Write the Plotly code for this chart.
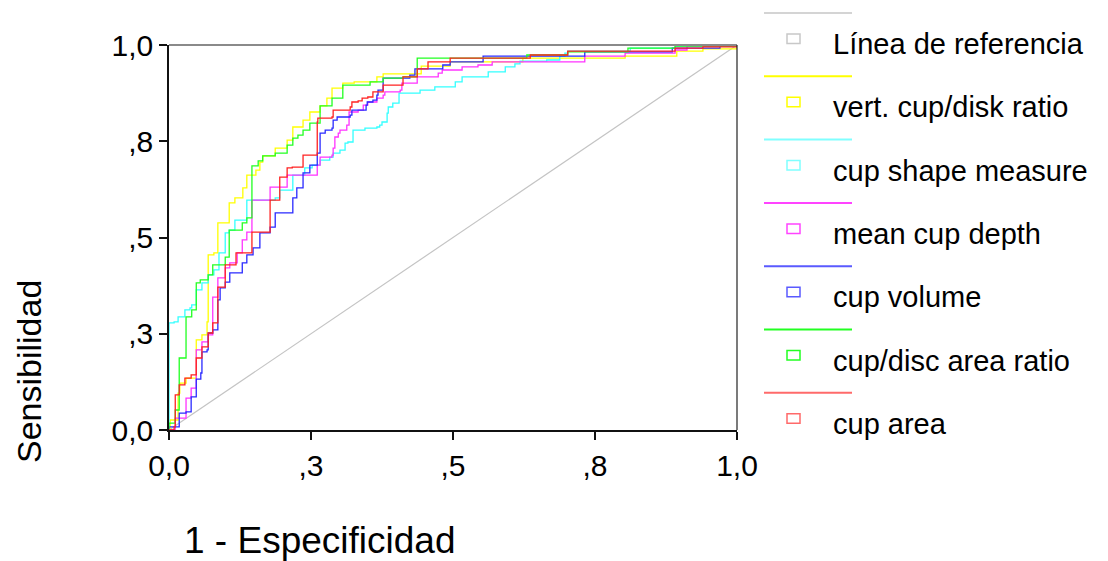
import plotly.graph_objects as go

# ---------------- data ----------------
series_names = ["Línea de referencia", "vert. cup/disk ratio", "cup shape measure",
                "mean cup depth", "cup volume", "cup/disc area ratio", "cup area"]

ref_fpr = [0.0, 1.0]
ref_tpr = [0.0, 1.0]

vert_cup_disk = [(0, 0), (0.002, 0.026), (0.016, 0.096), (0.019, 0.122), (0.030, 0.135),
                 (0.048, 0.234), (0.058, 0.247), (0.067, 0.281), (0.069, 0.455), (0.079, 0.460),
                 (0.086, 0.538), (0.106, 0.590), (0.116, 0.603), (0.130, 0.629), (0.137, 0.662),
                 (0.153, 0.675), (0.160, 0.696), (0.165, 0.712), (0.187, 0.732), (0.208, 0.753),
                 (0.218, 0.787), (0.236, 0.805), (0.248, 0.826), (0.266, 0.842), (0.278, 0.862),
                 (0.287, 0.888), (0.306, 0.901), (0.326, 0.904), (0.366, 0.917), (0.377, 0.925),
                 (0.444, 0.945), (0.495, 0.956), (0.623, 0.966), (0.803, 0.971), (0.894, 0.984),
                 (0.940, 0.990), (1.0, 1.0)]

cup_shape = [(0, 0), (0, 0.278), (0.009, 0.281), (0.016, 0.294), (0.028, 0.312), (0.037, 0.317),
             (0.040, 0.325), (0.048, 0.364), (0.058, 0.382), (0.069, 0.403), (0.079, 0.416),
             (0.088, 0.460), (0.099, 0.512), (0.106, 0.519), (0.116, 0.545), (0.137, 0.597),
             (0.187, 0.603), (0.195, 0.623), (0.218, 0.662), (0.239, 0.681), (0.252, 0.688),
             (0.266, 0.701), (0.283, 0.709), (0.289, 0.719), (0.301, 0.727), (0.310, 0.745),
             (0.315, 0.748), (0.324, 0.779), (0.345, 0.784), (0.366, 0.787), (0.371, 0.792),
             (0.375, 0.800), (0.384, 0.823), (0.386, 0.839), (0.394, 0.849), (0.405, 0.875),
             (0.442, 0.883), (0.468, 0.891), (0.504, 0.904), (0.516, 0.917), (0.562, 0.930),
             (0.592, 0.943), (0.609, 0.951), (0.618, 0.958), (0.665, 0.961), (0.688, 0.971),
             (0.697, 0.979), (0.702, 0.984), (0.812, 0.992), (0.891, 0.997), (1.0, 1.0)]

mean_cup_depth = [(0, 0), (0.011, 0.031), (0.030, 0.083), (0.039, 0.109), (0.048, 0.208),
                  (0.058, 0.229), (0.069, 0.247), (0.077, 0.345), (0.086, 0.395), (0.099, 0.421),
                  (0.107, 0.434), (0.120, 0.460), (0.129, 0.494), (0.137, 0.514), (0.146, 0.597),
                  (0.178, 0.631), (0.208, 0.662), (0.261, 0.688), (0.266, 0.709), (0.287, 0.714),
                  (0.289, 0.732), (0.292, 0.761), (0.298, 0.771), (0.301, 0.779), (0.313, 0.792),
                  (0.317, 0.826), (0.333, 0.831), (0.342, 0.844), (0.350, 0.852), (0.366, 0.862),
                  (0.377, 0.870), (0.380, 0.878), (0.407, 0.883), (0.410, 0.901), (0.437, 0.917),
                  (0.474, 0.927), (0.481, 0.935), (0.516, 0.943), (0.544, 0.948), (0.569, 0.956),
                  (0.732, 0.971), (0.803, 0.979), (0.891, 0.987), (0.912, 0.997), (1.0, 1.0)]

cup_volume = [(0, 0), (0, 0.008), (0.018, 0.044), (0.030, 0.047), (0.039, 0.086), (0.048, 0.132),
              (0.056, 0.148), (0.058, 0.203), (0.067, 0.208), (0.069, 0.252), (0.077, 0.260),
              (0.086, 0.338), (0.090, 0.369), (0.099, 0.384), (0.107, 0.408), (0.129, 0.434),
              (0.137, 0.455), (0.148, 0.473), (0.160, 0.512), (0.178, 0.527), (0.187, 0.564),
              (0.218, 0.603), (0.225, 0.629), (0.236, 0.668), (0.248, 0.688), (0.261, 0.719),
              (0.266, 0.771), (0.275, 0.779), (0.287, 0.784), (0.289, 0.805), (0.296, 0.813),
              (0.319, 0.818), (0.322, 0.831), (0.347, 0.844), (0.349, 0.852), (0.359, 0.857),
              (0.366, 0.870), (0.368, 0.883), (0.377, 0.914), (0.424, 0.922), (0.433, 0.938),
              (0.482, 0.948), (0.495, 0.956), (0.553, 0.971), (0.732, 0.982), (0.886, 0.992),
              (0.970, 0.997), (1.0, 1.0)]

cup_disc_area = [(0, 0), (0, 0.018), (0.011, 0.052), (0.018, 0.187), (0.030, 0.294), (0.040, 0.312),
                 (0.048, 0.382), (0.055, 0.390), (0.069, 0.403), (0.077, 0.429), (0.099, 0.449),
                 (0.106, 0.519), (0.129, 0.538), (0.137, 0.551), (0.146, 0.686), (0.157, 0.699),
                 (0.165, 0.712), (0.187, 0.719), (0.208, 0.740), (0.218, 0.758), (0.227, 0.766),
                 (0.236, 0.779), (0.248, 0.797), (0.266, 0.842), (0.287, 0.862), (0.306, 0.896),
                 (0.354, 0.904), (0.377, 0.914), (0.412, 0.917), (0.437, 0.966), (0.630, 0.974),
                 (0.702, 0.982), (0.808, 0.992), (0.891, 0.997), (1.0, 1.0)]

cup_area = [(0, 0), (0.009, 0.008), (0.011, 0.091), (0.018, 0.117), (0.028, 0.135), (0.039, 0.143),
            (0.048, 0.187), (0.058, 0.216), (0.069, 0.252), (0.077, 0.278), (0.086, 0.371),
            (0.099, 0.429), (0.118, 0.460), (0.146, 0.514), (0.178, 0.597), (0.195, 0.657),
            (0.208, 0.681), (0.217, 0.683), (0.236, 0.714), (0.261, 0.800), (0.262, 0.810),
            (0.287, 0.813), (0.289, 0.831), (0.319, 0.839), (0.322, 0.852), (0.333, 0.855),
            (0.340, 0.862), (0.350, 0.865), (0.359, 0.878), (0.377, 0.896), (0.412, 0.917),
            (0.437, 0.938), (0.456, 0.956), (0.495, 0.966), (0.636, 0.974), (0.702, 0.984),
            (0.891, 0.992), (0.940, 0.995), (1.0, 1.0)]

tick_vals = [0, 0.25, 0.5, 0.75, 1.0]
tick_text = ["0,0", ",3", ",5", ",8", "1,0"]

x_title = "1 - Especificidad"
y_title = "Sensibilidad"

# ---------------- styling ----------------
curve_colors = ["#c4c4c4", "#ffff00", "#33ffff", "#ff33ff", "#2a2aff", "#22ff22", "#ff2222"]
legend_line_colors = ["#d4d4d4", "#ffff00", "#80ffff", "#ff44ff", "#5a5aff", "#22ff22", "#ff6a6a"]
FONT = "Liberation Sans, Arial, sans-serif"

W, H = 1108, 561
PL, PR, PT, PB = 169, 737, 45, 430  # plot area in pixels


def px_x(px):
    return (px - PL) / (PR - PL)


def px_y(py):
    return (PB - py) / (PB - PT)


fig = go.Figure()

fig.add_trace(go.Scatter(x=ref_fpr, y=ref_tpr, mode="lines",
                         line=dict(color=curve_colors[0], width=1.2),
                         name=series_names[0], showlegend=False))

curves = [vert_cup_disk, cup_shape, mean_cup_depth, cup_volume, cup_disc_area, cup_area]
for i, pts in enumerate(curves):
    xs = [p[0] for p in pts]
    ys = [p[1] for p in pts]
    fig.add_trace(go.Scatter(x=xs, y=ys, mode="lines",
                             line=dict(color=curve_colors[i + 1], width=1.3, shape="hv"),
                             name=series_names[i + 1], showlegend=False))

shapes = []
annotations = []

# plot frame (top gray, right dark)
shapes.append(dict(type="line", xref="paper", yref="paper", x0=0, x1=1, y0=1, y1=1,
                   line=dict(color="#8a8a8a", width=2)))
shapes.append(dict(type="line", xref="paper", yref="paper", x0=1, x1=1, y0=0, y1=1,
                   line=dict(color="#222222", width=1.2)))

# SPSS-style legend drawn manually
for i, name in enumerate(series_names):
    base = 13 + 63.3 * i
    shapes.append(dict(type="line", xref="paper", yref="paper",
                       x0=px_x(764), x1=px_x(852), y0=px_y(base), y1=px_y(base),
                       line=dict(color=legend_line_colors[i], width=2)))
    shapes.append(dict(type="rect", xref="paper", yref="paper",
                       x0=px_x(787), x1=px_x(800), y0=px_y(base + 21), y1=px_y(base + 30.5),
                       line=dict(color=legend_line_colors[i] if i else "#c8c8c8", width=1.5),
                       fillcolor="rgba(0,0,0,0)"))
    annotations.append(dict(xref="paper", yref="paper", x=px_x(831), y=px_y(base + 31),
                            xanchor="left", yanchor="middle", showarrow=False, text=name,
                            font=dict(family=FONT, size=29, color="black")))

annotations.append(dict(xref="paper", yref="paper", x=px_x(319), y=px_y(540),
                        xanchor="center", yanchor="middle", showarrow=False, text=x_title,
                        font=dict(family=FONT, size=37, color="black")))
annotations.append(dict(xref="paper", yref="paper", x=px_x(29), y=px_y(372),
                        xanchor="center", yanchor="middle", showarrow=False, text=y_title,
                        textangle=-90, font=dict(family=FONT, size=34, color="black")))

fig.update_layout(
    width=W, height=H,
    margin=dict(l=PL, r=W - PR, t=PT, b=H - PB, pad=0),
    paper_bgcolor="white", plot_bgcolor="white",
    showlegend=False,
    shapes=shapes, annotations=annotations,
    font=dict(family=FONT, color="black"),
)
fig.update_xaxes(range=[0, 1], tickvals=tick_vals, ticktext=tick_text,
                 showgrid=False, zeroline=False, showline=True, linecolor="#111111", linewidth=1.5,
                 ticks="outside", ticklen=8, tickcolor="#111111", tickwidth=1.5,
                 tickfont=dict(family=FONT, size=30, color="black"))
fig.update_yaxes(range=[0, 1], tickvals=tick_vals, ticktext=tick_text,
                 showgrid=False, zeroline=False, showline=True, linecolor="#111111", linewidth=1.5,
                 ticks="outside", ticklen=8, tickcolor="#111111", tickwidth=1.5,
                 tickfont=dict(family=FONT, size=30, color="black"))

fig.write_html("out.html")
